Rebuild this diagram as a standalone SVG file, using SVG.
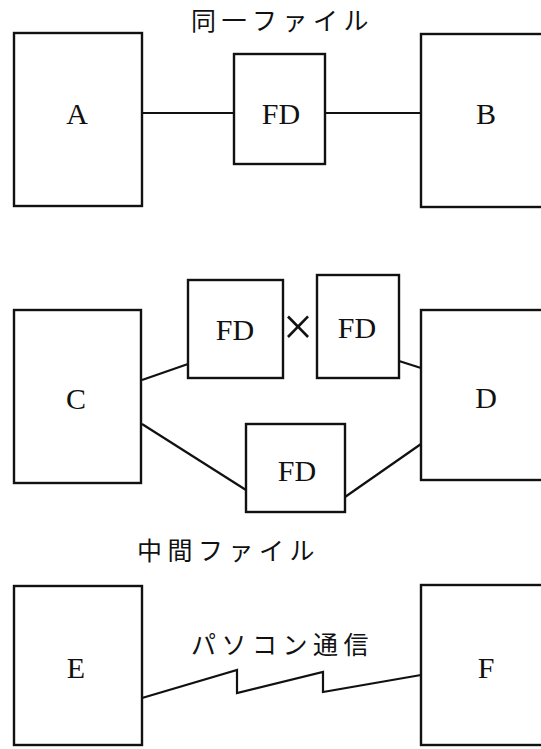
<svg xmlns="http://www.w3.org/2000/svg" width="541" height="749" viewBox="0 0 541 749">
<style>
.box{fill:#fff;stroke:#111;stroke-width:2.4}
.ln{fill:none;stroke:#111;stroke-width:2.2}
.lt{font-family:"Liberation Serif","Times New Roman",serif;font-size:30px;fill:#111;text-anchor:middle}
.jp{font-family:"Noto Sans CJK JP",sans-serif;font-size:25px;fill:#111;letter-spacing:5.5px}
</style>
<rect width="541" height="749" fill="#fff"/>
<g id="connectors">
<line class="ln" x1="142" y1="113" x2="234" y2="113"/>
<line class="ln" x1="325" y1="113" x2="421" y2="113"/>
<line class="ln" x1="142" y1="380" x2="188" y2="364"/>
<line class="ln" x1="399" y1="361" x2="421" y2="368"/>
<line class="ln" x1="142" y1="424" x2="246" y2="490"/>
<line class="ln" x1="345" y1="497" x2="421" y2="444"/>
<polyline class="ln" points="142,698 237,670 237,693 323,672 323,692 421,675"/>
</g>
<g id="labels">
<text class="jp" x="191" y="30">同一ファイル</text>
<text class="jp" x="137" y="560">中間ファイル</text>
<text class="jp" x="191" y="654">パソコン通信</text>
<text x="298" y="345" font-family="Liberation Serif,serif" font-size="54" text-anchor="middle" fill="#111">×</text>
</g>
<g id="nodeA"><rect class="box" x="14" y="33" width="128" height="173"/><text class="lt" x="77" y="124">A</text></g>
<g id="nodeFD1"><rect class="box" x="234" y="54" width="91" height="110"/><text class="lt" x="281" y="124">FD</text></g>
<g id="nodeB"><rect class="box" x="421" y="34" width="130" height="173"/><text class="lt" x="486" y="124">B</text></g>
<g id="nodeC"><rect class="box" x="14" y="310" width="127" height="173"/><text class="lt" x="76" y="409">C</text></g>
<g id="nodeFD2"><rect class="box" x="188" y="280" width="95" height="98"/><text class="lt" x="235" y="340">FD</text></g>
<g id="nodeFD3"><rect class="box" x="317" y="275" width="82" height="103"/><text class="lt" x="357" y="338">FD</text></g>
<g id="nodeD"><rect class="box" x="421" y="310" width="130" height="170"/><text class="lt" x="486" y="408">D</text></g>
<g id="nodeFD4"><rect class="box" x="246" y="424" width="99" height="88"/><text class="lt" x="297" y="481">FD</text></g>
<g id="nodeE"><rect class="box" x="14" y="586" width="128" height="159"/><text class="lt" x="76" y="678">E</text></g>
<g id="nodeF"><rect class="box" x="421" y="585" width="130" height="160"/><text class="lt" x="486" y="678">F</text></g>
</svg>
